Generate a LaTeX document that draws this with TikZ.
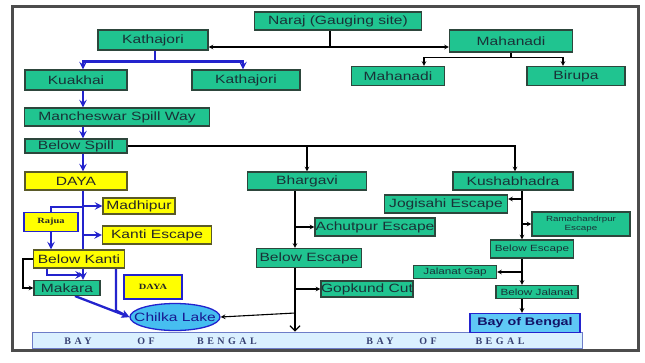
\documentclass[tikz,border=0pt]{standalone}
\usepackage{fontspec}
\setmainfont{Liberation Sans}
\newfontfamily\boxfont{Liberation Sans}[FakeStretch=1.3]
\newfontfamily\labelserif{Liberation Serif}[FakeStretch=1.3]
\newfontfamily\barfont{Liberation Serif}[LetterSpace=35]
\usetikzlibrary{shapes.geometric,backgrounds,arrows.meta}
\definecolor{riverGreen}{RGB}{32,196,144}
\definecolor{boxEdge}{RGB}{45,70,60}
\definecolor{boxText}{RGB}{25,50,55}
\definecolor{riverYellow}{RGB}{255,255,0}
\definecolor{yellowEdge}{RGB}{90,90,40}
\definecolor{riverBlue}{RGB}{35,35,205}
\definecolor{lakeBlue}{RGB}{70,190,240}
\definecolor{bayBlue}{RGB}{95,200,245}
\definecolor{barFill}{RGB}{218,240,255}
\definecolor{barEdge}{RGB}{110,125,200}
\definecolor{barText}{RGB}{55,65,115}
\begin{document}
\begin{tikzpicture}
[x=1pt,y=-1pt,
  greenBox/.style={draw=boxEdge,fill=riverGreen,line width=1.1pt,inner sep=0pt,text=boxText,font=\boxfont\fontsize{12}{13}\selectfont},
  smallBox/.style={greenBox,font=\boxfont\fontsize{9}{10}\selectfont},
  yellowBox/.style={greenBox,draw=yellowEdge,fill=riverYellow,text=black!85},
  tagBox/.style={yellowBox,draw=riverBlue,line width=1.3pt,font=\labelserif\bfseries\fontsize{8}{9}\selectfont},
  blackLine/.style={line width=1.1pt},
  blackArrow/.style={blackLine,->,>=stealth},
  blueLine/.style={draw=riverBlue,line width=2.3pt},
  blueArrow/.style={blueLine,->,>=stealth}]
\useasboundingbox (0,0) rectangle (645,362);
%% green boxes
\foreach \nodename/\x/\y/\w/\h/\nodetext in {
  naraj/338/21/167/18/Naraj (Gauging site), kathajoriA/153/40/110/20/Kathajori,
  mahanadiA/511/41/123/22/Mahanadi, kuakhai/76/80/102/20/Kuakhai,
  kathajoriB/246/80/108/20/Kathajori, mahanadiB/398/76/93/19/Mahanadi,
  birupa/576/76/98/19/Birupa, mancheswar/117/117/185/18/Mancheswar Spill Way,
  belowspill/76/146/102/14/Below Spill, bhargavi/307/181/119/18/Bhargavi,
  kushabhadra/513/181/120/18/Kushabhadra, achutpur/375/227/120/18/Achutpur Escape,
  belowescA/309/258/105/19/Below Escape, gopkund/367/289/92/16/Gopkund Cut,
  jogisahi/446/204/123/18/Jogisahi Escape, makara/67/288/66/15/Makara}
{
  \node (\nodename) at (\x,\y) [greenBox,minimum width=\w pt,minimum height=\h pt] {\nodetext};
}
\foreach \nodename/\x/\y/\w/\h/\nodetext in {
  belowescB/532/249/83/18/Below Escape, jalanat/455/272/83/13/Jalanat Gap,
  belowjalanat/537/292/82/13/Below Jalanat}
{
  \node (\nodename) at (\x,\y) [smallBox,minimum width=\w pt,minimum height=\h pt] {\nodetext};
}
\node (ramachandrpur) at (581,224) [smallBox,align=center,minimum width=98pt,minimum height=24pt,
  font=\boxfont\fontsize{7.5}{9}\selectfont] {Ramachandrpur\\Escape};
%% yellow boxes
\foreach \nodename/\x/\y/\w/\h/\nodetext in {
  daya/76/181/102/18/DAYA, madhipur/139/206/72/16/Madhipur,
  kantiesc/157/235/109/18/Kanti Escape, belowkanti/79/259/91/18/Below Kanti}
{
  \node (\nodename) at (\x,\y) [yellowBox,minimum width=\w pt,minimum height=\h pt] {\nodetext};
}
\node (rajua) at (51,222) [tagBox,minimum width=54pt,minimum height=19pt] {Rajua};
\node (dayasmall) at (153,287) [tagBox,minimum width=58pt,minimum height=24pt] {DAYA};
%% lake and sea
\node (chilka) at (175,317) [ellipse,draw=riverBlue,fill=lakeBlue,line width=1.3pt,inner sep=0pt,
  minimum width=90pt,minimum height=27pt,
  label={[text=riverBlue!70!black,font=\boxfont\fontsize{12}{13}\selectfont]center:Chilka Lake}] {};
\node (bar) at (307,340) [draw=barEdge,fill=barFill,line width=1pt,minimum width=550pt,minimum height=16pt] {};
\foreach \word/\x [count=\i] in {BAY/78, OF/146, BENGAL/227, BAY/380, OF/428, BEGAL/500}
{
  \node (barword\i) at (\x,341) [inner sep=0pt,text=barText,font=\barfont\bfseries\fontsize{10}{11}\selectfont] {\word};
}
\node (bayofbengal) at (525,323) [draw=riverBlue,fill=bayBlue,line width=1.3pt,inner sep=0pt,minimum width=110pt,
  minimum height=19pt,text=riverBlue!50!black,font=\boxfont\bfseries\fontsize{11}{12}\selectfont] {Bay of Bengal};
%% connectors
\begin{pgfonlayer}{background}
\draw[gray!60!black,line width=3pt] (12,6) rectangle (638,350);
% Naraj
\draw[blackArrow,<->] ([yshift=-7]kathajoriA.east) -- ([yshift=-7]kathajoriA.east -| mahanadiA.west) coordinate (mahIn);
\draw[blackLine] ([xshift=-8]naraj.south) -- ([xshift=-8]naraj.south |- mahIn);
% Mahanadi
\draw[blackLine] (mahanadiA.south) -- ++(0,5) coordinate (mahSplit);
\draw[blackArrow] (mahSplit) -| ([xshift=26]mahanadiB.north);
\draw[blackArrow] (mahSplit) -| ([xshift=-13]birupa.north);
% Kathajori
\draw[blueLine] ([xshift=2]kathajoriA.south) -- ++(0,11) coordinate (kathSplit);
\draw[blueArrow] (kathSplit) -| ([xshift=7]kuakhai.north);
\draw[blueArrow] (kathSplit) -| ([xshift=-3]kathajoriB.north);
% Kuakhai down to Daya
\coordinate (spine) at ([xshift=7]kuakhai.south);
\draw[blueArrow] (spine) -- (spine |- mancheswar.north);
\draw[blueArrow] (spine |- mancheswar.south) -- (spine |- belowspill.north);
\draw[blueArrow] (spine |- belowspill.south) -- (spine |- daya.north);
\draw[blackArrow] (belowspill.east) -| ([xshift=2]kushabhadra.north);
\draw[blackArrow] (belowspill.east -| bhargavi.north) -- (bhargavi.north);
% Daya
\draw[blueArrow] (spine |- daya.south) -- (spine |- makara.north);
\draw[blueArrow] (spine |- madhipur.west) -- (madhipur.west);
\draw[blueArrow] (spine |- kantiesc.west) -- (kantiesc.west);
\draw[blueLine] ([yshift=5]rajua.north -| spine) -| (rajua.north);
\draw[blueArrow] (rajua.south) -- (rajua.south |- belowkanti.north);
\draw[blueArrow] ([xshift=-32]belowkanti.south) |- ([yshift=5]makara.north -| spine);
\draw[blackArrow] (belowkanti.west) -- ++(-10,0) |- (makara.west);
\draw[blueArrow] ([xshift=37]belowkanti.south) -- ++(0,42) -- (chilka.west);
\draw[blueArrow] ([xshift=8]makara.south) -- (chilka.west);
% Bhargavi
\coordinate (bhTrunk) at ([xshift=-12]bhargavi.south);
\draw[blackArrow] (bhTrunk) -- (bhTrunk |- belowescA.north);
\draw[blackArrow] (bhTrunk |- achutpur.west) -- (achutpur.west);
\draw[blackLine,-{Straight Barb[length=5pt,width=10pt]}] (bhTrunk |- belowescA.south) -- (bhTrunk |- bar.north);
\draw[blackArrow] (bhTrunk |- gopkund.west) -- (gopkund.west);
\draw[blackArrow] ([yshift=4]chilka.east -| bhTrunk) -- (chilka.east);
% Kushabhadra
\coordinate (kuTrunk) at ([xshift=9]kushabhadra.south);
\draw[blackArrow] (kuTrunk) -- (kuTrunk |- belowescB.north);
\draw[blackArrow] ([yshift=5]jogisahi.east -| kuTrunk) -- ([yshift=5]jogisahi.east);
\draw[blackArrow] (kuTrunk |- ramachandrpur.west) -- (ramachandrpur.west);
\draw[blackArrow] (kuTrunk |- belowescB.south) -- (kuTrunk |- belowjalanat.north);
\draw[blackArrow] (kuTrunk |- jalanat.east) -- (jalanat.east);
\draw[blackArrow] (kuTrunk |- belowjalanat.south) -- (kuTrunk |- bayofbengal.north);
\end{pgfonlayer}
\end{tikzpicture}
\end{document}
